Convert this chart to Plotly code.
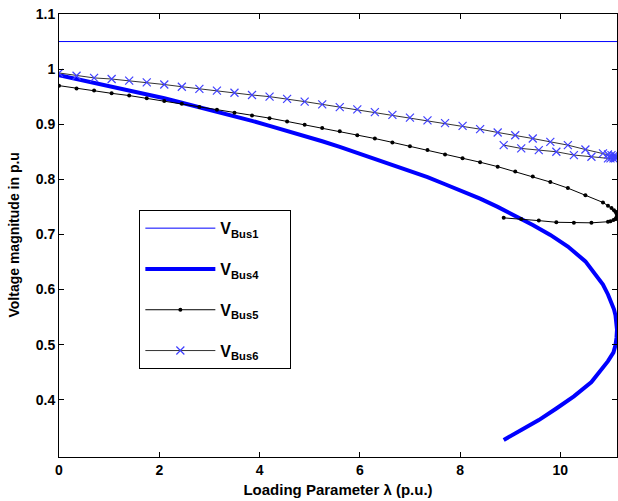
import plotly.graph_objects as go

# Continuation parameter (upper branch -> nose -> lower branch)
lam = [0.00, 0.35, 0.70, 1.05, 1.40, 1.75, 2.10, 2.45, 2.80, 3.15, 3.50, 3.85,
       4.20, 4.55, 4.90, 5.25, 5.60, 5.95, 6.30, 6.65, 7.00, 7.35, 7.70, 8.05,
       8.40, 8.75, 9.10, 9.45, 9.80, 10.15, 10.50, 10.85, 10.95, 11.02, 11.07,
       11.10, 11.12, 11.13, 11.12, 11.10, 11.06, 11.00, 10.95, 10.62, 10.27,
       9.92, 9.57, 9.22, 8.87]

lam_bus1 = [0.0, 11.13]
v_bus1 = [1.05, 1.05]

v_bus4 = [0.989, 0.982, 0.976, 0.969, 0.961, 0.954, 0.947, 0.939, 0.931, 0.923,
          0.915, 0.906, 0.897, 0.888, 0.878, 0.869, 0.859, 0.848, 0.838, 0.827,
          0.816, 0.804, 0.791, 0.778, 0.765, 0.750, 0.734, 0.717, 0.699, 0.678,
          0.651, 0.609, 0.591, 0.577, 0.564, 0.553, 0.542, 0.527, 0.512, 0.499,
          0.486, 0.477, 0.470, 0.432, 0.406, 0.384, 0.363, 0.345, 0.327]

v_bus5 = [0.970, 0.965, 0.961, 0.956, 0.952, 0.947, 0.942, 0.937, 0.931, 0.926,
          0.921, 0.916, 0.911, 0.905, 0.899, 0.893, 0.887, 0.880, 0.874, 0.867,
          0.860, 0.853, 0.845, 0.838, 0.831, 0.823, 0.814, 0.805, 0.795, 0.784,
          0.771, 0.758, 0.752, 0.748, 0.744, 0.741, 0.738, 0.735, 0.731, 0.728,
          0.726, 0.724, 0.723, 0.721, 0.721, 0.722, 0.725, 0.728, 0.730]

v_bus6 = [0.993, 0.988, 0.984, 0.982, 0.979, 0.976, 0.972, 0.968, 0.964, 0.961,
          0.957, 0.953, 0.950, 0.946, 0.941, 0.936, 0.931, 0.927, 0.922, 0.917,
          0.912, 0.907, 0.902, 0.897, 0.891, 0.885, 0.880, 0.874, 0.868, 0.862,
          0.854, 0.847, 0.845, 0.844, 0.843, 0.842, 0.841, 0.840, 0.839, 0.839,
          0.838, 0.838, 0.838, 0.841, 0.844, 0.850, 0.853, 0.856, 0.862]

x_ticks = [0, 2, 4, 6, 8, 10]
y_ticks = [0.4, 0.5, 0.6, 0.7, 0.8, 0.9, 1.0, 1.1]
y_tick_text = ["0.4", "0.5", "0.6", "0.7", "0.8", "0.9", "1", "1.1"]

FONT = "Liberation Sans"
PAD = "&nbsp;" * 6

fig = go.Figure()
fig.add_trace(go.Scatter(x=lam_bus1, y=v_bus1, mode="lines",
                         line=dict(color="#0000ff", width=1),
                         name="<b>V<sub>Bus1</sub></b>" + PAD, legendgroup="a"))
fig.add_trace(go.Scatter(x=lam, y=v_bus4, mode="lines",
                         line=dict(color="#0000ff", width=4),
                         name="<b>V<sub>Bus4</sub></b>" + PAD, legendgroup="b"))
fig.add_trace(go.Scatter(x=lam, y=v_bus5, mode="lines+markers",
                         line=dict(color="#000000", width=1),
                         marker=dict(symbol="circle", size=4, color="#000000"),
                         name="<b>V<sub>Bus5</sub></b>" + PAD, legendgroup="c"))
fig.add_trace(go.Scatter(x=lam, y=v_bus6, mode="lines+markers",
                         line=dict(color="#333333", width=1),
                         marker=dict(symbol="x-thin", size=8,
                                     line=dict(color="#4040ff", width=1.2)),
                         name="<b>V<sub>Bus6</sub></b>" + PAD, legendgroup="d"))

axis_common = dict(showline=True, linecolor="#000000", linewidth=1,
                   mirror="ticks", ticks="inside", ticklen=5,
                   tickcolor="#000000", showgrid=False, zeroline=False,
                   tickfont=dict(family=FONT, size=14, color="#000000"))

fig.update_xaxes(range=[0, 11.13], tickvals=x_ticks,
                 ticktext=[f"<b>{t}</b>" for t in x_ticks],
                 title=dict(text="<b>Loading Parameter λ (p.u.)</b>",
                            font=dict(family=FONT, size=15, color="#000000"),
                            standoff=7),
                 **axis_common)
fig.update_yaxes(range=[0.296, 1.1], tickvals=y_ticks,
                 ticktext=[f"<b>{t}</b>" for t in y_tick_text],
                 **axis_common)

fig.add_annotation(text="<b>Voltage magnitude in p.u</b>", textangle=-90,
                   xref="paper", yref="paper", x=-0.0824, y=0.5,
                   xanchor="center", yanchor="middle", showarrow=False,
                   font=dict(family=FONT, size=14, color="#000000"))

fig.update_layout(
    width=618, height=501,
    margin=dict(l=59, r=1, t=14, b=44),
    paper_bgcolor="white", plot_bgcolor="white",
    font=dict(family=FONT, color="#000000"),
    legend=dict(x=0.144, y=0.557, xanchor="left", yanchor="top",
                bgcolor="white", bordercolor="#000000", borderwidth=1,
                font=dict(family=FONT, size=16, color="#000000"),
                itemwidth=70, tracegroupgap=17, traceorder="grouped"),
)

fig.write_html("out.html")
